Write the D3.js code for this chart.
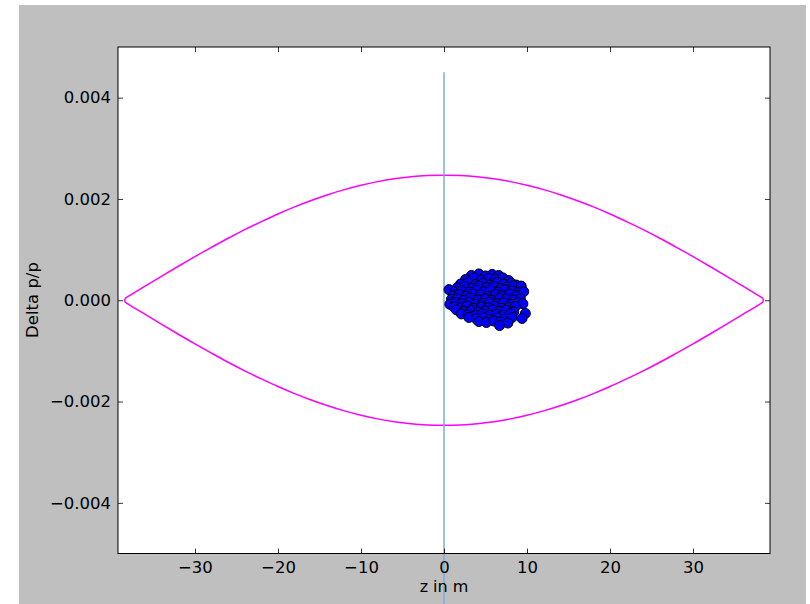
<!DOCTYPE html>
<html>
<meta charset="utf-8">
<style>
body { margin: 0; background: #ffffff; }
text { font-family: "DejaVu Sans", sans-serif; fill: #000; }
.tick line { stroke: #000; stroke-width: 0.8px; }
</style>
<body>
<script src="https://d3js.org/d3.v7.min.js"></script>
<script>

// axis ticks
var zTicks = [-30, -20, -10, 0, 10, 20, 30];
var deltaTicks = [-0.004, -0.002, 0, 0.002, 0.004];

// separatrix (upper half, mirrored for the lower one)
var sepZ     = [-38.45, -38, -36, -34, -32, -30, -28, -26, -24, -22, -20, -18, -16, -14, -12, -10, -8, -6, -4, -2, 0,
                2, 4, 6, 8, 10, 12, 14, 16, 18, 20, 22, 24, 26, 28, 30, 32, 34, 36, 38, 38.45];
var sepDelta = [0.00003, 0.000080, 0.000279, 0.000477, 0.000671, 0.000862, 0.001045, 0.001224, 0.001394,
                0.001553, 0.001704, 0.001843, 0.001970, 0.002084, 0.002184, 0.002270, 0.002342, 0.002398,
                0.002438, 0.002462, 0.00247,
                0.002462, 0.002438, 0.002398, 0.002342, 0.002270, 0.002184, 0.002084, 0.001970, 0.001843,
                0.001704, 0.001553, 0.001394, 0.001224, 0.001045, 0.000862, 0.000671, 0.000477, 0.000279,
                0.000080, 0.00003];

// vertical marker line at z = 0
var markerZ = 0;
var markerDelta = [0.0045, -0.0062];

// particle bunch [z, delta]
var bunch = [
[3.3,0.00049],[4.2,0.00052],[5.0,0.00048],[5.8,0.00051],[6.6,0.00049],
[2.6,0.00041],[3.6,0.00044],[4.5,0.00040],[5.4,0.00043],[6.2,0.00041],[7.1,0.00044],[7.8,0.00039],
[2.0,0.00032],[2.9,0.00035],[3.8,0.00031],[4.7,0.00034],[5.5,0.00030],[6.4,0.00035],[7.2,0.00032],[8.1,0.00034],[8.7,0.00030],
[1.6,0.00025],[2.5,0.00027],[3.4,0.00024],[4.2,0.00028],[5.1,0.00025],[6.0,0.00027],[6.8,0.00023],[7.6,0.00026],[8.4,0.00028],[9.3,0.00028],
[0.6,0.00021],[1.3,0.00017],[2.1,0.00019],[3.0,0.00016],[3.9,0.00020],[4.8,0.00017],[5.6,0.00019],[6.5,0.00016],[7.3,0.00020],[8.2,0.00018],[9.0,0.00015],[9.6,0.00017],
[1.1,0.00009],[1.8,0.00011],[2.7,0.00008],[3.5,0.00012],[4.4,0.00010],[5.3,0.00008],[6.2,0.00011],[7.0,0.00009],[7.9,0.00012],[8.7,0.00009],
[0.9,0.00002],[1.6,0.00003],[2.4,0.00000],[3.2,0.00004],[4.1,0.00001],[5.0,0.00003],[5.8,0.00000],[6.7,0.00004],[7.5,0.00002],[8.4,0.00001],[9.2,0.00003],
[0.7,-0.00008],[1.4,-0.00005],[2.2,-0.00007],[3.0,-0.00004],[3.8,-0.00008],[4.7,-0.00006],[5.5,-0.00004],[6.4,-0.00007],[7.2,-0.00005],[8.1,-0.00008],[8.9,-0.00005],[9.5,-0.00007],
[1.2,-0.00013],[2.0,-0.00015],[2.8,-0.00012],[3.6,-0.00016],[4.5,-0.00013],[5.3,-0.00015],[6.1,-0.00012],[7.0,-0.00016],[7.8,-0.00014],[8.6,-0.00012],
[1.5,-0.00019],[2.4,-0.00022],[3.3,-0.00020],[4.1,-0.00023],[5.0,-0.00021],[5.9,-0.00019],[6.7,-0.00022],[7.5,-0.00020],[8.4,-0.00023],
[2.1,-0.00027],[2.9,-0.00029],[3.8,-0.00030],[4.6,-0.00027],[5.5,-0.00030],[6.3,-0.00028],[7.2,-0.00029],[8.0,-0.00027],[9.8,-0.00026],
[3.0,-0.00034],[3.9,-0.00037],[4.8,-0.00035],[5.6,-0.00038],[6.5,-0.00035],[7.3,-0.00037],[8.2,-0.00034],[9.4,-0.00036],
[4.2,-0.00042],[5.1,-0.00044],[6.0,-0.00041],[6.8,-0.00043],[7.7,-0.00045],
[6.7,-0.00050]
];

var W = 810, H = 604;
var plot = {left: 118, right: 770, top: 47, bottom: 553.5};

var svg = d3.select("body").append("svg").attr("width", W).attr("height", H);

// figure background
svg.append("rect").attr("x", 19).attr("y", 5).attr("width", 787).attr("height", H - 5)
  .attr("fill", "#bfbfbf");
svg.append("rect").attr("x", plot.left).attr("y", plot.top)
  .attr("width", plot.right - plot.left).attr("height", plot.bottom - plot.top)
  .attr("fill", "#ffffff");

var x = d3.scaleLinear().domain([-39.27, 39.27]).range([plot.left, plot.right]);
var y = d3.scaleLinear().domain([-0.005, 0.005]).range([plot.bottom, plot.top]);

var fmtY = function(d){ return d3.format(".3f")(d).replace("-", "\u2212"); };
var fmtX = function(d){ return String(d).replace("-", "\u2212"); };

svg.append("clipPath").attr("id", "clip").append("rect")
  .attr("x", plot.left).attr("y", plot.top)
  .attr("width", plot.right - plot.left).attr("height", plot.bottom - plot.top);

// separatrix: smooth upper and lower halves, joined at the tips
var line = d3.line().x(d => x(d[0])).y(d => y(d[1])).curve(d3.curveMonotoneX);
var upper = sepZ.map(function(z, i){ return [z, sepDelta[i]]; });
var lower = sepZ.map(function(z, i){ return [z, -sepDelta[i]]; });
svg.append("path")
  .attr("clip-path", "url(#clip)")
  .attr("fill", "none").attr("stroke", "#ff00ff").attr("stroke-width", 1.5)
  .attr("d", line(upper) + line(lower));
[0, sepZ.length - 1].forEach(function(i){
  svg.append("line")
    .attr("x1", x(sepZ[i])).attr("x2", x(sepZ[i]))
    .attr("y1", y(sepDelta[i])).attr("y2", y(-sepDelta[i]))
    .attr("stroke", "#ff00ff").attr("stroke-width", 1.5);
});

// vertical line (not clipped, runs past the axes)
svg.append("line")
  .attr("x1", x(markerZ)).attr("x2", x(markerZ))
  .attr("y1", y(markerDelta[0])).attr("y2", y(markerDelta[1]))
  .attr("stroke", "#7aaddc").attr("stroke-width", 1.5);

// particles
svg.append("g").selectAll("circle").data(bunch).enter().append("circle")
  .attr("cx", d => x(d[0])).attr("cy", d => y(d[1])).attr("r", 5)
  .attr("fill", "#0000ff").attr("stroke", "#000").attr("stroke-width", 1);

// axes
var fs = "16.5px";
var xb = svg.append("g").attr("transform", "translate(0," + plot.bottom + ")")
  .call(d3.axisBottom(x).tickValues(zTicks).tickSizeInner(-5).tickSizeOuter(0).tickPadding(8).tickFormat(fmtX));
var xt = svg.append("g").attr("transform", "translate(0," + plot.top + ")")
  .call(d3.axisTop(x).tickValues(zTicks).tickSizeInner(-5).tickSizeOuter(0).tickFormat(""));
var yl = svg.append("g").attr("transform", "translate(" + plot.left + ",0)")
  .call(d3.axisLeft(y).tickValues(deltaTicks).tickSizeInner(-5).tickSizeOuter(0).tickPadding(7).tickFormat(fmtY));
var yr = svg.append("g").attr("transform", "translate(" + plot.right + ",0)")
  .call(d3.axisRight(y).tickValues(deltaTicks).tickSizeInner(-5).tickSizeOuter(0).tickFormat(""));
[xb, xt, yl, yr].forEach(function(g){
  g.select(".domain").remove();
  g.selectAll("text").style("font-size", fs).attr("fill", "#000");
});

// frame
svg.append("rect").attr("x", plot.left).attr("y", plot.top)
  .attr("width", plot.right - plot.left).attr("height", plot.bottom - plot.top)
  .attr("fill", "none").attr("stroke", "#000").attr("stroke-width", 1);

// axis labels
svg.append("text").attr("x", x(0)).attr("y", 592).attr("text-anchor", "middle")
  .style("font-size", "16px").text("z in m");
svg.append("text").attr("transform", "translate(38,300) rotate(-90)").attr("text-anchor", "middle")
  .style("font-size", fs).text("Delta p/p");

</script>
</body>
</html>
